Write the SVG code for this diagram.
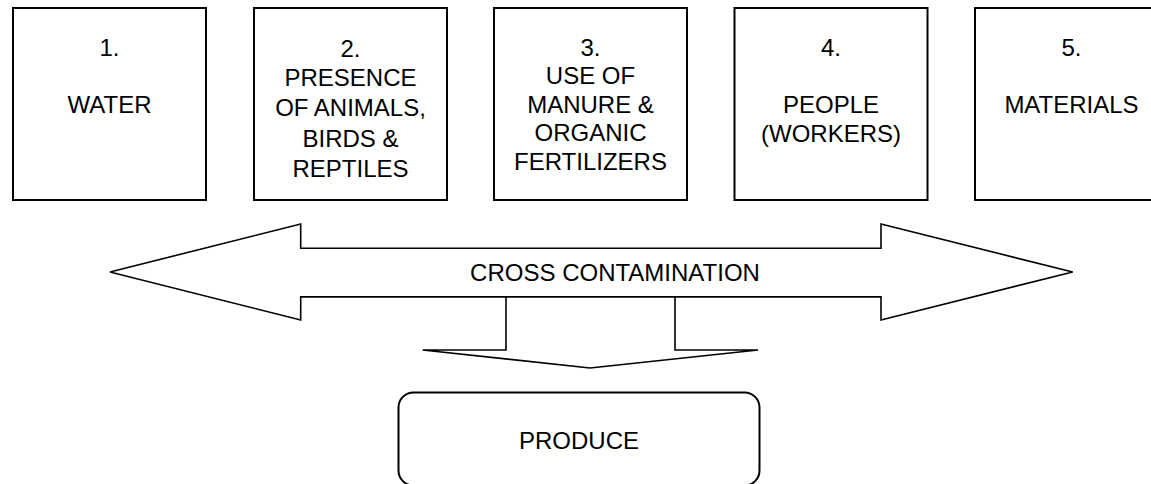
<svg xmlns="http://www.w3.org/2000/svg" width="1151" height="484" viewBox="0 0 1151 484">
<style>
.box{fill:#fff;stroke:#000;stroke-width:2}
.arr{fill:#fff;stroke:#000;stroke-width:1.6;stroke-linejoin:miter}
text{font-family:"Liberation Sans",Arial,sans-serif;font-size:24px;fill:#000;text-anchor:middle}
</style>
<rect width="1151" height="484" fill="#fff"/>
<g id="connectors">
<polygon class="arr" points="110,272 300.7,224 300.7,248.3 881,248.3 881,224 1072.7,272 881,320 881,296.7 300.7,296.7 300.7,320"/>
<polygon class="arr" points="506,296.7 675,296.7 675,350 758,350 590,368 422.7,350 506,350"/>
<line x1="300.7" y1="296.7" x2="881" y2="296.7" stroke="#000" stroke-width="1.6"/>
<text x="615" y="281">CROSS CONTAMINATION</text>
</g>
<g id="n1">
<rect class="box" x="13" y="8" width="193" height="192"/>
<text x="109.5" y="56">1.</text>
<text x="109.5" y="113">WATER</text>
</g>
<g id="n2">
<rect class="box" x="254" y="8" width="193" height="192"/>
<text x="350.5" y="56.5">2.</text>
<text x="350.5" y="86">PRESENCE</text>
<text x="350.5" y="116">OF ANIMALS,</text>
<text x="350.5" y="146.5">BIRDS &amp;</text>
<text x="350.5" y="176.5">REPTILES</text>
</g>
<g id="n3">
<rect class="box" x="494" y="8" width="193" height="192"/>
<text x="590.5" y="55.6">3.</text>
<text x="590.5" y="84.2">USE OF</text>
<text x="590.5" y="112.8">MANURE &amp;</text>
<text x="590.5" y="141.4">ORGANIC</text>
<text x="590.5" y="170">FERTILIZERS</text>
</g>
<g id="n4">
<rect class="box" x="734.5" y="8" width="193" height="192"/>
<text x="831" y="56">4.</text>
<text x="831" y="113">PEOPLE</text>
<text x="831" y="141.5">(WORKERS)</text>
</g>
<g id="n5">
<rect class="box" x="975" y="8" width="193" height="192"/>
<text x="1071.5" y="56">5.</text>
<text x="1071.5" y="113">MATERIALS</text>
</g>
<g id="produce">
<rect class="box" x="398.5" y="392.5" width="361" height="93" rx="15" ry="15"/>
<text x="579" y="449.3">PRODUCE</text>
</g>
</svg>
